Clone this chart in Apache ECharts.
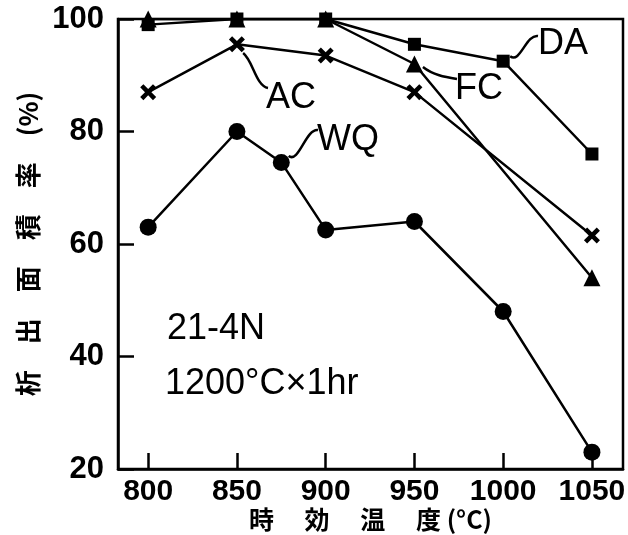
<!DOCTYPE html>
<html>
<head>
<meta charset="utf-8">
<script src="https://cdn.jsdelivr.net/npm/echarts@6/dist/echarts.min.js"></script>
<style>
html, body { margin: 0; padding: 0; background: #fff; }
#main { width: 628px; height: 535px; }
</style>
</head>
<body>
<div id="main"></div>
<script>
// aging temperature (°C) vs area ratio (%)
var xTicks = [800, 850, 900, 950, 1000, 1050];
var yTicks = [20, 40, 60, 80, 100];

var wqTemp = [800, 850, 875, 900, 950, 1000, 1050];
var wqRate = [63, 80, 74.5, 62.5, 64, 48, 23];
var acTemp = [800, 850, 900, 950, 1050];
var acRate = [87, 95.5, 93.5, 87, 61.5];
var fcTemp = [800, 850, 900, 950, 1050];
var fcRate = [100, 100, 100, 92, 54];
var daTemp = [800, 850, 900, 950, 1000, 1050];
var daRate = [99, 100, 100, 95.5, 92.5, 76];

function pairs(xs, ys) {
    var res = [];
    for (var i = 0; i < xs.length; i++) {
        res.push([xs[i], ys[i]]);
    }
    return res;
}

var crossPath = 'path://M0,2L2,0L5,3L8,0L10,2L7,5L10,8L8,10L5,7L2,10L0,8L3,5Z';
var numFont = '"Liberation Sans", Arial, sans-serif';
var cjkFont = '"Noto Sans CJK JP", "Noto Sans CJK SC", sans-serif';

function line(name, data, symbol, size) {
    return {
        name: name,
        type: 'line',
        data: data,
        symbol: symbol,
        symbolSize: size,
        showSymbol: true,
        animation: false,
        lineStyle: { color: '#000', width: 2.5 },
        itemStyle: { color: '#000', borderColor: '#000', borderWidth: 0 },
        z: 3
    };
}

var dom = document.getElementById('main');
var chart = echarts.init(dom, null, { renderer: 'canvas' });

var option = {
    backgroundColor: '#fff',
    animation: false,
    grid: {
        left: 118, right: 5, top: 19, bottom: 66,
        outerBoundsMode: 'none',
        containLabel: false,
        show: true, borderColor: '#000', borderWidth: 2.5, backgroundColor: 'transparent'
    },
    xAxis: {
        type: 'value',
        min: 783,
        max: 1067.5,
        name: '時　 効　 温　 度 (°C)',
        nameLocation: 'middle',
        nameGap: 38,
        nameMoveOverlap: false,
        nameTextStyle: { fontFamily: cjkFont, fontSize: 25, fontWeight: 'bold', color: '#000' },
        axisLine: { show: true, lineStyle: { color: '#000', width: 2.5 } },
        axisTick: { show: true, inside: true, length: 16, customValues: xTicks, lineStyle: { color: '#000', width: 2.5 } },
        axisLabel: {
            customValues: xTicks, margin: 8, fontFamily: numFont, fontSize: 30, fontWeight: 'bold', color: '#000',
            formatter: function (v) { return String(v); }
        },
        splitLine: { show: false }
    },
    yAxis: {
        type: 'value',
        min: 20,
        max: 100,
        interval: 20,
        name: '析　出　面　積　率　(%)',
        nameLocation: 'middle',
        nameRotate: 90,
        nameGap: 76,
        nameTextStyle: { fontFamily: cjkFont, fontSize: 26, fontWeight: 'bold', color: '#000' },
        axisLine: { show: true, lineStyle: { color: '#000', width: 2.5 } },
        axisTick: { show: true, inside: true, length: 16, lineStyle: { color: '#000', width: 2.5 } },
        axisLabel: { margin: 14, fontFamily: numFont, fontSize: 31, fontWeight: 'bold', color: '#000' },
        splitLine: { show: false }
    },
    series: [
        line('WQ', pairs(wqTemp, wqRate), 'circle', 17),
        line('AC', pairs(acTemp, acRate), crossPath, 16),
        line('FC', pairs(fcTemp, fcRate), 'triangle', 17),
        line('DA', pairs(daTemp, daRate), 'rect', 13)
    ]
};
chart.setOption(option);

// labels with curly leader lines to one point of each series
var tags = [
    { text: 'AC', x: 291, y: 98, from: [268, 88], pt: [850, acRate[1]] },
    { text: 'WQ', x: 348, y: 140, from: [318, 130], pt: [875, wqRate[2]] },
    { text: 'FC', x: 479, y: 89, from: [457, 79], pt: [950, fcRate[3]] },
    { text: 'DA', x: 563, y: 44, from: [538, 36], pt: [1000, daRate[4]] }
];

var gfx = [];
tags.forEach(function (t) {
    var p = chart.convertToPixel({ gridIndex: 0 }, t.pt);
    var ex = p[0] + (t.from[0] - p[0]) * 0.2;
    var ey = p[1] + (t.from[1] - p[1]) * 0.2;
    gfx.push({
        type: 'text',
        x: t.x, y: t.y,
        style: { text: t.text, fontFamily: numFont, fontSize: 36, fill: '#000', align: 'center', verticalAlign: 'middle' },
        z: 10
    });
    gfx.push({
        type: 'bezierCurve',
        shape: {
            x1: t.from[0], y1: t.from[1],
            x2: ex, y2: ey,
            cpx1: t.from[0] - 12, cpy1: t.from[1] - 2,
            cpx2: ex + 10, cpy2: ey + 8
        },
        style: { stroke: '#000', lineWidth: 2.5, fill: null },
        z: 10
    });
});

gfx.push({
    type: 'text', x: 167, y: 329,
    style: { text: '21-4N', fontFamily: numFont, fontSize: 36, fill: '#000', verticalAlign: 'middle' },
    z: 10
});
gfx.push({
    type: 'text', x: 165, y: 384,
    style: { text: '1200°C×1hr', fontFamily: numFont, fontSize: 36, fill: '#000', verticalAlign: 'middle' },
    z: 10
});

chart.setOption({ graphic: gfx });
</script>
</body>
</html>
